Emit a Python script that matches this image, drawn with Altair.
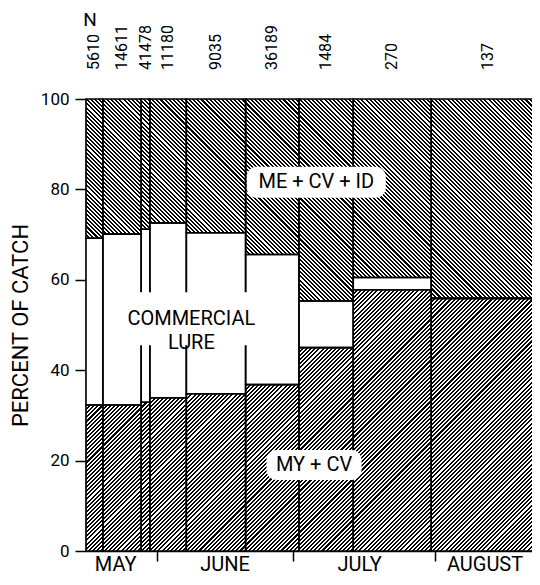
import altair as alt
import pandas as pd
import numpy as np

# ---------------- data ----------------
# sampling periods, as day numbers counted from 1 May (= day 0)
period_edges = [15.5, 19.2, 27.6, 29.5, 37.5, 50.5, 62.2, 74.1, 91.2, 116.0]
n_catch = [5610, 14611, 41478, 11180, 9035, 36189, 1484, 270, 137]
pct_my_cv = [32.3, 32.3, 32.9, 33.9, 34.8, 36.8, 45.0, 57.8, 55.9]
pct_lure = [36.9, 37.8, 38.3, 38.7, 35.6, 28.8, 10.3, 2.7, 0.0]
pct_me_cv_id = [round(100 - a - b, 1) for a, b in zip(pct_my_cv, pct_lure)]

month_names = ["MAY", "JUNE", "JULY", "AUGUST"]
month_label_day = [22.0, 46.0, 75.5, 103.0]
month_start_days = [31, 61, 92]
y_ticks = [0, 20, 40, 60, 80, 100]

ann_text = ["ME + CV + ID", "COMMERCIAL\nLURE", "MY + CV"]
ann_day = [66.0, 38.6, 65.5]
ann_pct = [81.6, 51.4, 19.0]

# ---------------- layout ----------------
W, H = 446, 452
XMIN, XMAX = 15.5, 113.3
FONT = "Roboto"
kx = W / (XMAX - XMIN)          # px per day
ky = H / 100.0                  # px per percent

bars = pd.DataFrame({
    "left": period_edges[:-1],
    "right": period_edges[1:],
    "n": [str(v) for v in n_catch],
    "my": pct_my_cv,
    "lure": pct_lure,
    "me": pct_me_cv_id,
})
bars["center"] = (bars["left"] + bars["right"]) / 2
bars["lure_top"] = bars["my"] + bars["lure"]

seg_rows = []
for _, r in bars.iterrows():
    seg_rows.append({"left": r.left, "right": r.right, "y0": 0.0, "y1": r.my, "cat": "MY + CV"})
    seg_rows.append({"left": r.left, "right": r.right, "y0": r.my, "y1": r.lure_top, "cat": "COMMERCIAL LURE"})
    seg_rows.append({"left": r.left, "right": r.right, "y0": r.lure_top, "y1": 100.0, "cat": "ME + CV + ID"})
segs = pd.DataFrame(seg_rows)

area_df = pd.DataFrame({
    "x": list(bars["left"]) + [period_edges[-1]],
    "y": list(bars["my"]) + [pct_my_cv[-1]],
})

months = pd.DataFrame({"m": month_names, "d": month_label_day})
ann = pd.DataFrame({"t": ann_text, "d": ann_day, "p": ann_pct})
one = pd.DataFrame({"k": [0]})


def hatch(w, h, direction, period=2.9, frac=0.5):
    s = (w + h) / (w * w + h * h)
    if direction == "down":      # lines running top-left -> bottom-right
        x1, y1, x2, y2 = 0, 1, s * w, 1 - s * h
    else:                        # lines running bottom-left -> top-right
        x1, y1, x2, y2 = 0, 0, s * w, s * h
    n = (w + h) / (period * 2 ** 0.5)
    dt = 1.0 / n
    stops = []
    i = 0
    while i * dt < 1:
        a = round(i * dt, 5)
        b = round(min((i + frac) * dt, 1), 5)
        c = round(min((i + 1) * dt, 1), 5)
        stops += [{"offset": a, "color": "black"}, {"offset": b, "color": "black"},
                  {"offset": b, "color": "white"}, {"offset": c, "color": "white"}]
        i += 1
    return {"gradient": "linear", "x1": x1, "y1": y1, "x2": round(x2, 5), "y2": round(y2, 5), "stops": stops}


xscale = alt.Scale(domain=[XMIN, XMAX], nice=False, zero=False)
yscale = alt.Scale(domain=[0, 100], nice=False)
xaxis = alt.Axis(values=month_start_days, labels=False, tickSize=10, tickWidth=1.5,
                 tickColor="black", domainColor="black", domainWidth=1.5, grid=False,
                 title=None)
yaxis = alt.Axis(values=y_ticks, tickSize=11, tickWidth=1.5, tickColor="black",
                 domainColor="black", domainWidth=1.5, grid=False, labelFont=FONT,
                 labelFontSize=17, labelColor="black", labelPadding=6, labelFontWeight="normal",
                 title="PERCENT OF CATCH", titleFont=FONT, titleFontSize=22,
                 titleFontWeight="normal", titleColor="black", titleAngle=270,
                 titleX=-66, titleY=H / 2, titleAlign="center", titleBaseline="middle")


def X(f):
    return alt.X(f, type="quantitative", scale=xscale, axis=xaxis)


def Y(f):
    return alt.Y(f, type="quantitative", scale=yscale, axis=yaxis, stack=None)


# top hatch over the whole plot
bg = alt.Chart(one).mark_rect(fill=hatch(W, H, "down"), strokeWidth=0).encode(
    x=alt.value(0), x2=alt.value(W), y=alt.value(0), y2=alt.value(H))

# bottom hatch as one stepped area
area_w = (period_edges[-1] - XMIN) * kx
area_h = max(pct_my_cv) * ky
bottom = alt.Chart(area_df).mark_area(interpolate="step-after", fill=hatch(area_w, area_h, "up"),
                                      strokeWidth=0).encode(x=X("x"), y=Y("y"))

# white lure segments
lure = alt.Chart(bars).mark_rect(fill="white", strokeWidth=0).encode(
    x=X("left"), x2="right", y=Y("my"), y2="lure_top")

# outlines
outline = alt.Chart(segs).mark_rect(fillOpacity=0, stroke="black", strokeWidth=1.6).encode(
    x=X("left"), x2="right", y=Y("y0"), y2="y1")

layers = [bg, bottom, lure, outline]

# white label boxes
box_sizes = [(139, 31, 10), (146, 53, 0), (95, 30, 10)]
for i, (bw, bh, cr) in enumerate(box_sizes):
    layers.append(alt.Chart(ann.iloc[[i]]).mark_rect(width=bw, height=bh, cornerRadius=cr, fill="white",
                                                     strokeWidth=0).encode(x=X("d"), y=Y("p")))

# label texts
labels = alt.Chart(ann).mark_text(font=FONT, fontSize=20, fontWeight="normal", color="black",
                                  lineBreak="\n", lineHeight=24, align="center",
                                  baseline="middle").encode(x=X("d"), y=Y("p"), text="t:N")

# N labels above the bars
nlab = alt.Chart(bars).mark_text(font=FONT, fontSize=16, fontWeight="normal", color="black", angle=270,
                                 align="left", baseline="middle").encode(
    x=X("center"), y=alt.value(-29), text="n:N")
ntitle = alt.Chart(one).mark_text(font=FONT, fontSize=19, fontWeight="normal", color="black",
                                  align="center", baseline="alphabetic").encode(
    x=alt.value(4), y=alt.value(-73), text=alt.value("N"))

# month names under the axis
mlab = alt.Chart(months).mark_text(font=FONT, fontSize=20, fontWeight="normal", color="black",
                                   baseline="alphabetic").encode(x=X("d"), y=alt.value(H + 20), text="m:N")

layers += [labels, nlab, ntitle, mlab]

chart = alt.layer(*layers).properties(
    width=W, height=H,
    autosize=alt.AutoSizeParams(type="none"),
    padding={"left": 78, "top": 91, "right": 0, "bottom": 26},
).configure_view(stroke=None).configure(background="white")

chart.save("out.html", embed_options={"renderer": "svg", "actions": False})
